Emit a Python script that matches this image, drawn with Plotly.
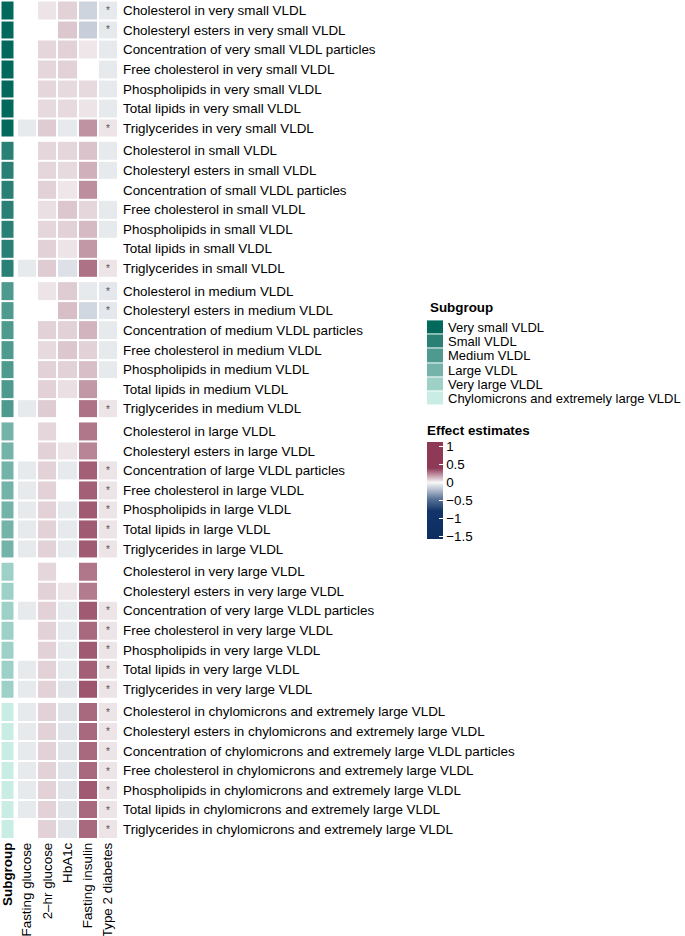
import plotly.graph_objects as go

N = None

subgroups = ["Very small VLDL", "Small VLDL", "Medium VLDL", "Large VLDL",
             "Very large VLDL", "Chylomicrons and extremely large VLDL"]
subgroup_colors = ["#03695C", "#2A8074", "#4E9A8F", "#74B3A9", "#9DD1C8", "#C9EDE5"]
subgroup_in_label = ["very small VLDL", "small VLDL", "medium VLDL", "large VLDL",
                     "very large VLDL", "chylomicrons and extremely large VLDL"]
measures = ["Cholesterol in {}", "Cholesteryl esters in {}", "Concentration of {} particles",
            "Free cholesterol in {}", "Phospholipids in {}", "Total lipids in {}", "Triglycerides in {}"]
outcomes = ["Fasting glucose", "2\u2013hr glucose", "HbA1c", "Fasting insulin", "Type 2 diabetes"]

# effect estimates, columns follow `outcomes`; None = blank cell
est_very_small = [
    [N, 0.04, 0.08, -0.13, -0.05],
    [N, N, 0.10, -0.15, -0.05],
    [N, 0.07, 0.08, 0.035, -0.05],
    [N, 0.07, 0.08, N, -0.05],
    [N, 0.07, 0.06, 0.06, -0.05],
    [N, 0.06, 0.06, 0.04, -0.05],
    [-0.05, 0.09, -0.05, 0.21, 0.04],
]
est_small = [
    [N, 0.07, 0.07, 0.11, -0.05],
    [N, 0.07, 0.06, 0.15, -0.05],
    [N, 0.08, 0.035, 0.22, N],
    [N, 0.05, 0.10, 0.07, -0.05],
    [N, 0.07, 0.08, 0.13, -0.05],
    [N, 0.08, 0.04, 0.20, N],
    [-0.05, 0.09, -0.08, 0.28, 0.04],
]
est_medium = [
    [N, 0.04, 0.09, -0.05, -0.06],
    [N, N, 0.12, -0.12, -0.06],
    [N, 0.08, 0.08, 0.14, -0.05],
    [N, 0.06, 0.10, 0.08, -0.05],
    [N, 0.08, 0.08, 0.12, -0.05],
    [N, 0.08, 0.05, 0.20, N],
    [-0.05, 0.09, N, 0.28, 0.04],
]
est_large = [
    [N, 0.07, N, 0.27, N],
    [N, 0.08, 0.04, 0.24, N],
    [-0.05, 0.08, -0.05, 0.32, 0.04],
    [-0.05, 0.08, N, 0.32, 0.04],
    [-0.05, 0.08, -0.05, 0.33, 0.04],
    [-0.05, 0.08, -0.05, 0.33, 0.04],
    [-0.05, 0.08, -0.05, 0.33, 0.04],
]
est_very_large = [
    [N, 0.07, N, 0.27, N],
    [N, 0.08, 0.04, 0.26, N],
    [-0.05, 0.08, -0.05, 0.33, 0.04],
    [N, 0.08, -0.05, 0.30, 0.04],
    [N, 0.08, -0.05, 0.33, 0.04],
    [-0.05, 0.08, -0.05, 0.32, 0.04],
    [-0.05, 0.08, -0.07, 0.34, 0.04],
]
est_chylo = [
    [-0.05, 0.08, -0.07, 0.30, 0.04],
    [-0.05, 0.08, -0.07, 0.30, 0.04],
    [-0.05, 0.08, -0.07, 0.30, 0.04],
    [-0.05, 0.08, -0.07, 0.30, 0.04],
    [-0.05, 0.08, -0.07, 0.33, 0.04],
    [-0.05, 0.08, -0.07, 0.30, 0.04],
    [N, 0.08, -0.07, 0.30, 0.04],
]
# significance star in the Type 2 diabetes column
star_very_small = [1, 1, 0, 0, 0, 0, 1]
star_small = [0, 0, 0, 0, 0, 0, 1]
star_medium = [1, 1, 0, 0, 0, 0, 1]
star_large = [0, 0, 1, 1, 1, 1, 1]
star_very_large = [0, 0, 1, 1, 1, 1, 1]
star_chylo = [1, 1, 1, 1, 1, 1, 1]

estimates = [est_very_small, est_small, est_medium, est_large, est_very_large, est_chylo]
stars = [star_very_small, star_small, star_medium, star_large, star_very_large, star_chylo]

cbar_ticks = [1, 0.5, 0, -0.5, -1, -1.5]
cbar_labels = ["1", "0.5", "0", "\u22120.5", "\u22121", "\u22121.5"]
cmin, cmax = -1.58, 1.13
stops = [(-1.58, "#0E2E61"), (-0.80, "#123469"), (-0.45, "#5C7699"), (-0.20, "#B7C1D0"),
         (0.0, "#F7F7F7"), (0.40, "#8E3956"), (1.13, "#8E3956")]
colorscale = [[(v - cmin) / (cmax - cmin), c] for v, c in stops]

W, H, PLOT_H = 685, 936, 839
FONT = "Liberation Sans, Arial, sans-serif"
FS = 13.4


def py(px):  # pixel from top -> paper fraction
    return min(1, max(0, (PLOT_H - px) / PLOT_H))


fig = go.Figure()
layout_axes = {}
n = len(subgroups)
for k in range(n):
    labels = [m.format(subgroup_in_label[k]) for m in measures]
    yname = "y" if k == 0 else f"y{k + 1}"
    text = [["", "", "", "", "*" if s else ""] for s in stars[k]]
    fig.add_trace(go.Heatmap(
        x=outcomes, y=labels, z=estimates[k], text=text, texttemplate="%{text}",
        textfont=dict(size=10, color="#555555"),
        coloraxis="coloraxis", xgap=2, ygap=2, xaxis="x2", yaxis=yname,
        hoverongaps=False))
    fig.add_trace(go.Heatmap(
        x=["<b>Subgroup</b>"], y=labels, z=[[k]] * 7,
        colorscale=[[0, subgroup_colors[k]], [1, subgroup_colors[k]]],
        showscale=False, xgap=2, ygap=2, xaxis="x", yaxis=yname))
    top = 0.5 + 140.3 * k
    bottom = top + 137.4
    key = "yaxis" if k == 0 else f"yaxis{k + 1}"
    layout_axes[key] = dict(domain=[py(bottom), py(top)], anchor="x2", side="right",
                            autorange="reversed", showgrid=False, zeroline=False,
                            ticks="", tickfont=dict(size=FS, color="black"),
                            ticklabelstandoff=4, automargin=False)

# subgroup legend as a small heatmap, labels as annotations on its axis
fig.add_trace(go.Heatmap(
    x=[""], y=subgroups, z=[[i] for i in range(n)],
    colorscale=[[j / (n - 1), c] for j, c in enumerate(subgroup_colors)],
    showscale=False, ygap=1, xaxis="x3", yaxis="y7"))
layout_axes["yaxis7"] = dict(domain=[py(408), py(318)], anchor="x3",
                             autorange="reversed", showgrid=False, zeroline=False,
                             showticklabels=False, ticks="", automargin=False)

annotations = [dict(text="<b>Subgroup</b>", x=428 / W, y=py(307), xref="paper",
                    yref="paper", xanchor="left", yanchor="middle",
                    showarrow=False, font=dict(size=FS))]
for name in subgroups:
    annotations.append(dict(text=name, x=446 / W, y=name, xref="paper", yref="y7",
                            xanchor="left", yanchor="middle", showarrow=False,
                            font=dict(size=13)))

fig.update_layout(
    width=W, height=H, margin=dict(l=0, r=0, t=0, b=H - PLOT_H, autoexpand=False),
    paper_bgcolor="white", plot_bgcolor="white",
    font=dict(family=FONT, size=FS, color="black"),
    xaxis=dict(domain=[0.5 / W, 14.5 / W], anchor="y6", tickangle=-90, ticks="",
               showgrid=False, zeroline=False, tickfont=dict(size=FS), automargin=False),
    xaxis2=dict(domain=[17 / W, 118 / W], anchor="y6", tickangle=-90, ticks="",
                showgrid=False, zeroline=False, tickfont=dict(size=FS), automargin=False),
    xaxis3=dict(domain=[427 / W, 443 / W], anchor="y7", visible=False),
    coloraxis=dict(
        colorscale=colorscale, cmin=cmin, cmax=cmax,
        colorbar=dict(
            title=dict(text="<b>Effect estimates</b>", side="top", font=dict(size=FS)),
            x=427 / W, xanchor="left", xpad=0, y=py(422), yanchor="top", ypad=0,
            len=117, lenmode="pixels", thickness=16, outlinewidth=0,
            tickvals=cbar_ticks, ticktext=cbar_labels, ticks="inside",
            tickcolor="white", ticklen=4, tickfont=dict(size=FS))),
    annotations=annotations,
    **layout_axes,
)

# drop the browser's default 8px page margin so the figure sits at the window origin
fig.write_html("out.html", config={"displayModeBar": False},
               post_script="document.body.style.margin='0';")
